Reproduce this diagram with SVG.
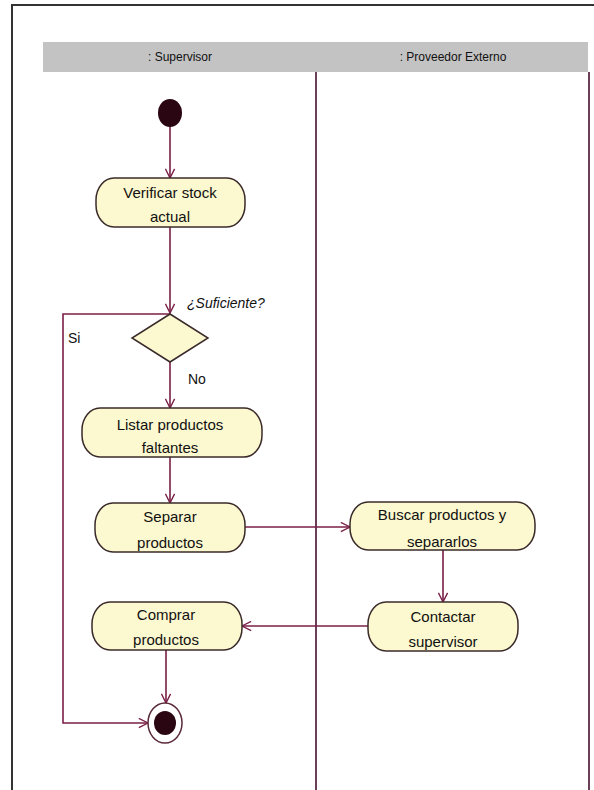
<svg xmlns="http://www.w3.org/2000/svg" width="594" height="790" viewBox="0 0 594 790">
  <style>
    .frame { fill: #ffffff; stroke: #333333; stroke-width: 2; }
    .header { fill: #c3c3c3; }
    .hdr { font-family: "Liberation Sans", Arial, sans-serif; font-size: 12px; fill: #111111; text-anchor: middle; }
    .lane { stroke: #5a2a44; stroke-width: 1.8; fill: none; }
    .act { fill: #fcf8cf; stroke: #3a2a2a; stroke-width: 1.5; }
    .lbl { font-family: "Liberation Sans", Arial, sans-serif; font-size: 15px; fill: #111111; text-anchor: middle; }
    .note { font-family: "Liberation Sans", Arial, sans-serif; font-size: 14px; fill: #111111; }
    .edge { stroke: #7a1f46; stroke-width: 1.6; fill: none; }
    .dot { fill: #2a0612; }
  </style>
  <defs>
    <marker id="open" viewBox="0 0 12 12" refX="11" refY="6" markerWidth="11" markerHeight="11" markerUnits="userSpaceOnUse" orient="auto">
      <path d="M1,1 L11,6 L1,11" fill="none" stroke="#7a1f46" stroke-width="1.5"/>
    </marker>
  </defs>

  <!-- page frame and swimlane headers -->
  <rect class="frame" x="12" y="5" width="590" height="800"/>
  <rect class="header" x="43" y="42" width="545" height="30"/>
  <text class="hdr" x="180" y="61">: Supervisor</text>
  <text class="hdr" x="453" y="61">: Proveedor Externo</text>
  <line class="lane" x1="316" y1="72" x2="316" y2="790"/>
  <line class="lane" x1="589" y1="72" x2="589" y2="790"/>

  <!-- connectors -->
  <g id="edges">
    <path class="edge" d="M170,125 L170,178" marker-end="url(#open)"/>
    <path class="edge" d="M170,227 L170,313" marker-end="url(#open)"/>
    <path class="edge" d="M170,362 L170,408" marker-end="url(#open)"/>
    <path class="edge" d="M170,457 L170,503" marker-end="url(#open)"/>
    <path class="edge" d="M245,527 L350,527" marker-end="url(#open)"/>
    <path class="edge" d="M443,550 L443,602" marker-end="url(#open)"/>
    <path class="edge" d="M368,626 L242,626" marker-end="url(#open)"/>
    <path class="edge" d="M166,650 L166,703" marker-end="url(#open)"/>
    <path class="edge" d="M170,314 L63,314 L63,723 L148,723" marker-end="url(#open)"/>
    <text class="note" x="187" y="308" font-style="italic">¿Suficiente?</text>
    <text class="note" x="68" y="343">Si</text>
    <text class="note" x="188" y="384">No</text>
  </g>

  <!-- initial state -->
  <g id="start">
    <ellipse class="dot" cx="170" cy="113" rx="12" ry="14"/>
  </g>

  <g id="verificar">
    <rect class="act" x="96" y="178" width="149" height="49" rx="18" ry="22"/>
    <text class="lbl" x="170" y="198">Verificar stock</text>
    <text class="lbl" x="170" y="222">actual</text>
  </g>

  <g id="decision">
    <polygon class="act" points="170,314 208,338 170,362 132,338"/>
  </g>

  <g id="listar">
    <rect class="act" x="82" y="408" width="180" height="49" rx="18" ry="22"/>
    <text class="lbl" x="170" y="430">Listar productos</text>
    <text class="lbl" x="170" y="453">faltantes</text>
  </g>

  <g id="separar">
    <rect class="act" x="95" y="503" width="150" height="49" rx="18" ry="22"/>
    <text class="lbl" x="170" y="522">Separar</text>
    <text class="lbl" x="170" y="548">productos</text>
  </g>

  <g id="buscar">
    <rect class="act" x="350" y="502" width="185" height="48" rx="18" ry="22"/>
    <text class="lbl" x="442" y="520">Buscar productos y</text>
    <text class="lbl" x="442" y="547">separarlos</text>
  </g>

  <g id="contactar">
    <rect class="act" x="368" y="602" width="150" height="49" rx="18" ry="22"/>
    <text class="lbl" x="443" y="622">Contactar</text>
    <text class="lbl" x="443" y="647">supervisor</text>
  </g>

  <g id="comprar">
    <rect class="act" x="92" y="602" width="150" height="48" rx="18" ry="22"/>
    <text class="lbl" x="166" y="620">Comprar</text>
    <text class="lbl" x="166" y="645">productos</text>
  </g>

  <!-- final state -->
  <g id="end">
    <ellipse cx="165" cy="723" rx="17" ry="20" fill="#ffffff" stroke="#5a2a3a" stroke-width="1.5"/>
    <ellipse class="dot" cx="165" cy="723" rx="11" ry="12"/>
  </g>
</svg>
